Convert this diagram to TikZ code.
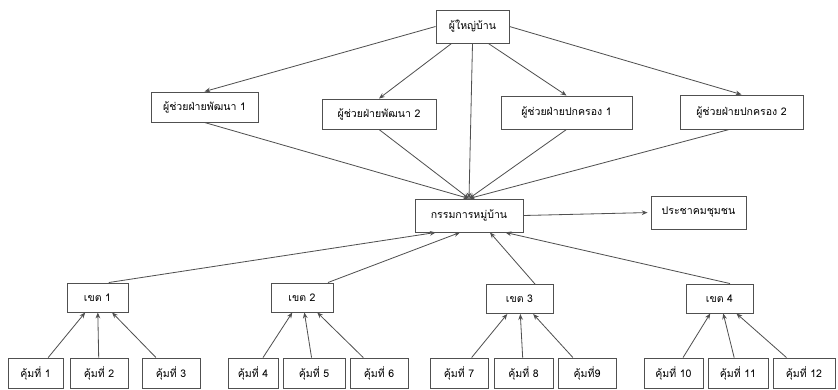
\documentclass[tikz,border=0pt]{standalone}
\usepackage{fontspec}
\newfontfamily\thaifont[Script=Thai]{Loma}
\usepackage{xcolor}
\usepackage{tikz}
\usetikzlibrary{arrows.meta,positioning,calc}
\definecolor{orgline}{RGB}{80,80,80}

\begin{document}
\begin{tikzpicture}[
    x=0.03cm, y=-0.03cm,
    box/.style={rectangle, draw=orgline, line width=0.8pt, minimum height=0.9cm, inner sep=2pt, align=center, font=\thaifont\fontsize{9}{11}\selectfont},
    arrow/.style={-{Stealth[length=5pt,width=4pt]}, draw=orgline, line width=0.7pt}
]
    \useasboundingbox (0,0) rectangle (838,389);

    % Top: head of village
    \node[box, minimum width=2.19cm, minimum height=0.99cm] (head) at (472.5,26.5) {ผู้ใหญ่บ้าน};

    % Assistants
    \node[box, minimum width=3.21cm] (asst1) at (204.5,107) {ผู้ช่วยฝ่ายพัฒนา 1};
    \node[box, minimum width=3.42cm] (asst2) at (379,114) {ผู้ช่วยฝ่ายพัฒนา 2};
    \node[box, minimum width=3.93cm, minimum height=0.99cm] (asst3) at (566.5,112.5) {ผู้ช่วยฝ่ายปกครอง 1};
    \node[box, minimum width=3.69cm, minimum height=1.02cm] (asst4) at (741.5,112) {ผู้ช่วยฝ่ายปกครอง 2};

    % Center: committee
    \node[box, minimum width=3.24cm, minimum height=0.99cm] (comm) at (469,215.5) {กรรมการหมู่บ้าน};
    \node[box, minimum width=2.85cm, minimum height=0.99cm] (public) at (698.5,212.5) {ประชาคมชุมชน};

    % Zones
    \node[box, minimum width=1.83cm, minimum height=0.87cm] (zone1) at (97.5,297.5) {เขต 1};
    \node[box, minimum width=1.86cm, minimum height=0.87cm] (zone2) at (302,297.5) {เขต 2};
    \node[box, minimum width=2.01cm, minimum height=0.87cm] (zone3) at (519.5,299) {เขต 3};
    \node[box, minimum width=2.01cm, minimum height=0.87cm] (zone4) at (719.5,298.5) {เขต 4};

    % Bottom: kum
    \node[box, minimum width=1.65cm] (kum1) at (35.5,373) {คุ้มที่ 1};
    \node[box, minimum width=1.74cm] (kum2) at (99,373) {คุ้มที่ 2};
    \node[box, minimum width=1.74cm] (kum3) at (171,373) {คุ้มที่ 3};
    \node[box, minimum width=1.50cm] (kum4) at (253,373) {คุ้มที่ 4};
    \node[box, minimum width=1.86cm] (kum5) at (314,373) {คุ้มที่ 5};
    \node[box, minimum width=1.74cm] (kum6) at (379,373) {คุ้มที่ 6};
    \node[box, minimum width=1.74cm] (kum7) at (459,373) {คุ้มที่ 7};
    \node[box, minimum width=1.77cm] (kum8) at (523.5,373) {คุ้มที่ 8};
    \node[box, minimum width=1.74cm] (kum9) at (587,373) {คุ้มที่9};
    \node[box, minimum width=1.77cm] (kum10) at (673.5,373) {คุ้มที่ 10};
    \node[box, minimum width=1.80cm] (kum11) at (738,373) {คุ้มที่ 11};
    \node[box, minimum width=1.86cm] (kum12) at (804,373) {คุ้มที่ 12};

    % Arrows from head
    \draw[arrow] (head.west) -- (asst1.north);
    \draw[arrow] (head.219) -- (asst2.north);
    \draw[arrow] (head.313) -- (asst3.north);
    \draw[arrow] (head.east) -- (asst4.north);
    \draw[arrow] (head.south) -- (comm.north);

    % Assistants to committee
    \draw[arrow] (asst1.south) -- (comm.north);
    \draw[arrow] (asst2.south) -- (comm.north);
    \draw[arrow] (asst3.south) -- (comm.north);
    \draw[arrow] (asst4.235) -- (comm.north);

    % Committee to public
    \draw[arrow, shorten >=2.5pt] (comm.east) -- (public.west);

    % Zones to committee
    \draw[arrow] (zone1.53) -- (comm.207);
    \draw[arrow] (zone2.30) -- (comm.242);
    \draw[arrow] (zone3.44) -- (comm.321);
    \draw[arrow] (zone4.55) -- (comm.335);

    % Kum to zones
    \draw[arrow] (kum1) -- (zone1);
    \draw[arrow] (kum2) -- (zone1);
    \draw[arrow] (kum3) -- (zone1);
    \draw[arrow] (kum4) -- (zone2);
    \draw[arrow] (kum5) -- (zone2);
    \draw[arrow] (kum6) -- (zone2);
    \draw[arrow] (kum7) -- (zone3);
    \draw[arrow] (kum8) -- (zone3);
    \draw[arrow] (kum9) -- (zone3);
    \draw[arrow] (kum10) -- (zone4);
    \draw[arrow] (kum11) -- (zone4);
    \draw[arrow] (kum12) -- (zone4);
\end{tikzpicture}
\end{document}
